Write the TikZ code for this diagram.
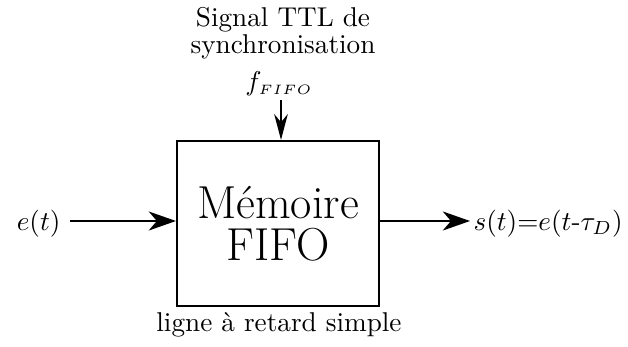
\documentclass[tikz,border=0pt]{standalone}
\usetikzlibrary{arrows.meta}
\begin{document}
\begin{tikzpicture}[x=0.3676pt,y=-0.3676pt,
  sig/.style={line width=0.75pt,-{Stealth[length=10pt,width=7pt,inset=3pt]}},
  sigv/.style={line width=0.75pt,-{Stealth[length=9.5pt,width=5pt,inset=3pt]}},
  membox/.style={draw,line width=0.75pt,minimum width=74.3pt,minimum height=60.7pt,inner sep=0pt,align=center,font=\fontsize{17}{15.4}\selectfont},
  lbl/.style={inner sep=0pt}]
\useasboundingbox (0,0) rectangle (628,347);
\node[membox] (mem) at (278,223.5) {Mémoire\\FIFO};
\node[lbl,align=center,anchor=base,font=\fontsize{10}{9.6}\selectfont] (sync) at (283,53) {Signal TTL de\\synchronisation};
\node[lbl,anchor=base] (f) at (279,90) {$f_{\scriptscriptstyle FIFO}$};
\coordinate (ftop) at (281,100);
\node[lbl,anchor=base east] (e) at (61,230) {$e(t)$};
\coordinate (ein) at (70,221);
\node[lbl,anchor=base west] (s) at (473,230) {$s(t)$=$e(t$-$\tau_D)$};
\coordinate (sout) at (470,221);
\node[lbl,anchor=base] (lig) at (279,331) {ligne à retard simple};
\draw[sigv] (ftop) -- (mem.north -| ftop);
\draw[sig] (ein) -- (mem.west |- ein);
\draw[sig] (mem.east |- sout) -- (sout);
\end{tikzpicture}
\end{document}
